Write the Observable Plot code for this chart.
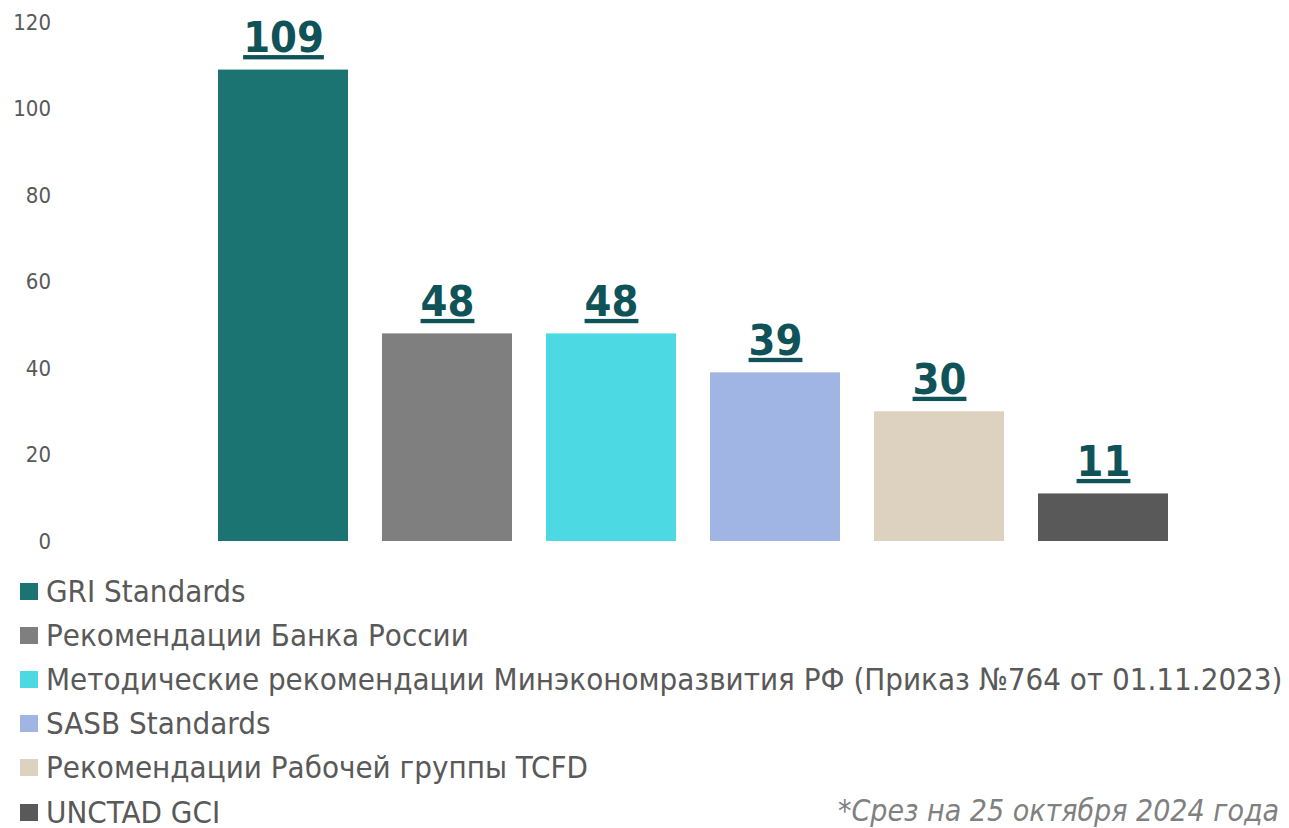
<!DOCTYPE html>
<html>
<head>
<meta charset="utf-8">
<script src="https://cdn.jsdelivr.net/npm/d3@7"></script>
<script src="https://cdn.jsdelivr.net/npm/@observablehq/plot@0.6"></script>
<style>
  html, body { margin: 0; padding: 0; background: #fff; width: 1289px; height: 828px; overflow: hidden; }
  body { position: relative; font-family: "DejaVu Sans Condensed", "DejaVu Sans", sans-serif; font-stretch: condensed; }
  #chart { position: absolute; left: 0; top: 0; }
  #chart svg { overflow: visible; }
  #chart g[aria-label="text"] text { text-decoration: underline; }
  #legend { position: absolute; left: 20px; top: 569px; }
  .row { height: 44.2px; display: flex; align-items: center; white-space: nowrap; font-size: 31px; line-height: 31px; color: #595959; }
  .sw { width: 18px; height: 17px; margin-right: 8px; flex: none; }
  #note { position: absolute; left: 838px; top: 796px; font-size: 30px; line-height: 30px; font-style: italic; color: #808080; white-space: nowrap; }
</style>
</head>
<body>
<div id="chart"></div>
<div id="legend"></div>
<div id="note"></div>
<script>
const categories = [
  "GRI Standards",
  "Рекомендации Банка России",
  "Методические рекомендации Минэкономразвития РФ (Приказ №764 от 01.11.2023)",
  "SASB Standards",
  "Рекомендации Рабочей группы TCFD",
  "UNCTAD GCI"
];
const values = [109, 48, 48, 39, 30, 11];
const colors = ["#1b7472", "#7f7f7f", "#4dd9e3", "#a0b5e3", "#ddd2bf", "#595959"];
const yTicks = [0, 20, 40, 60, 80, 100, 120];
const note = "*Срез на 25 октября 2024 года";

const data = categories.map((c, i) => ({category: c, value: values[i], color: colors[i]}));

const chart = Plot.plot({
  width: 1289,
  height: 560,
  marginTop: 22,
  marginBottom: 19,
  marginLeft: 182.5,
  marginRight: 85.5,
  style: {fontFamily: '"DejaVu Sans Condensed", "DejaVu Sans", sans-serif', background: "transparent", overflow: "visible"},
  x: {domain: categories, padding: 0.21, axis: null},
  y: {domain: [0, 120], ticks: yTicks},
  marks: [
    Plot.axisY({ticks: yTicks, tickSize: 0, tickPadding: 132, fontSize: 22, fill: "#595959", label: null}),
    Plot.barY(data, {x: "category", y: "value", fill: "color"}),
    Plot.text(data, {x: "category", y: "value", text: d => String(d.value), lineAnchor: "bottom", dy: -18, fontSize: 43, fontWeight: "bold", fill: "#0f5257"})
  ]
});
document.getElementById("chart").appendChild(chart);

const legend = document.getElementById("legend");
categories.forEach((c, i) => {
  const row = document.createElement("div");
  row.className = "row";
  const sw = document.createElement("span");
  sw.className = "sw";
  sw.style.background = colors[i];
  const t = document.createElement("span");
  t.textContent = c;
  row.appendChild(sw);
  row.appendChild(t);
  legend.appendChild(row);
});
document.getElementById("note").textContent = note;
</script>
</body>
</html>
